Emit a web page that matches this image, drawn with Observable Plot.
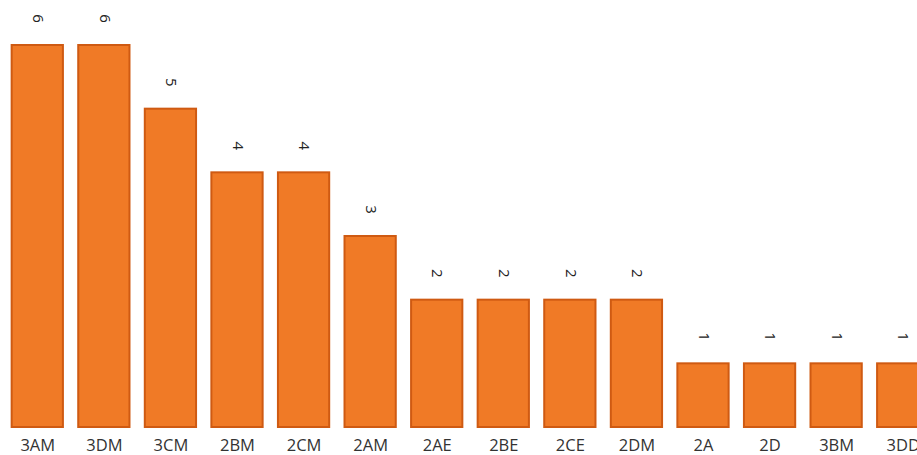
<!DOCTYPE html>
<html>
<head>
<meta charset="utf-8">
<script src="https://cdn.jsdelivr.net/npm/d3@7"></script>
<script src="https://cdn.jsdelivr.net/npm/@observablehq/plot@0.6"></script>
<style>
  html, body { margin: 0; padding: 0; background: #fff; overflow: hidden; }
  #chart { width: 917px; height: 455px; overflow: hidden; }
</style>
</head>
<body>
<div id="chart"></div>
<script>
// Class groups and their counts
const classes = ["3AM", "3DM", "3CM", "2BM", "2CM", "2AM", "2AE", "2BE", "2CE", "2DM", "2A", "2D", "3BM", "3DD"];
const counts  = [6, 6, 5, 4, 4, 3, 2, 2, 2, 2, 1, 1, 1, 1];

const data = classes.map((c, i) => ({cls: c, n: counts[i]}));

const font = "'Segoe UI', 'Open Sans', sans-serif";

const chart = Plot.plot({
  width: 936,
  height: 455,
  marginLeft: 4,
  marginRight: 0,
  marginTop: 45,
  marginBottom: 28,
  style: {fontFamily: font, background: "#fff", overflow: "visible", maxWidth: "none"},
  x: {domain: classes, paddingInner: 0.23, paddingOuter: 0.115, round: false, label: null},
  y: {domain: [0, 6], axis: null},
  marks: [
    Plot.barY(data, {
      x: "cls", y: "n",
      fill: "#F07A26",
      stroke: "#CF5A12",
      strokeWidth: 2
    }),
    Plot.text(data, {
      x: "cls", y: "n", text: d => String(d.n),
      dy: -27, rotate: 90,
      fontSize: 15, fill: "#222"
    }),
    Plot.axisX({
      tickSize: 0, tickPadding: 12,
      fontSize: 16.5, color: "#333", label: null
    })
  ]
});

document.getElementById("chart").appendChild(chart);
</script>
</body>
</html>
